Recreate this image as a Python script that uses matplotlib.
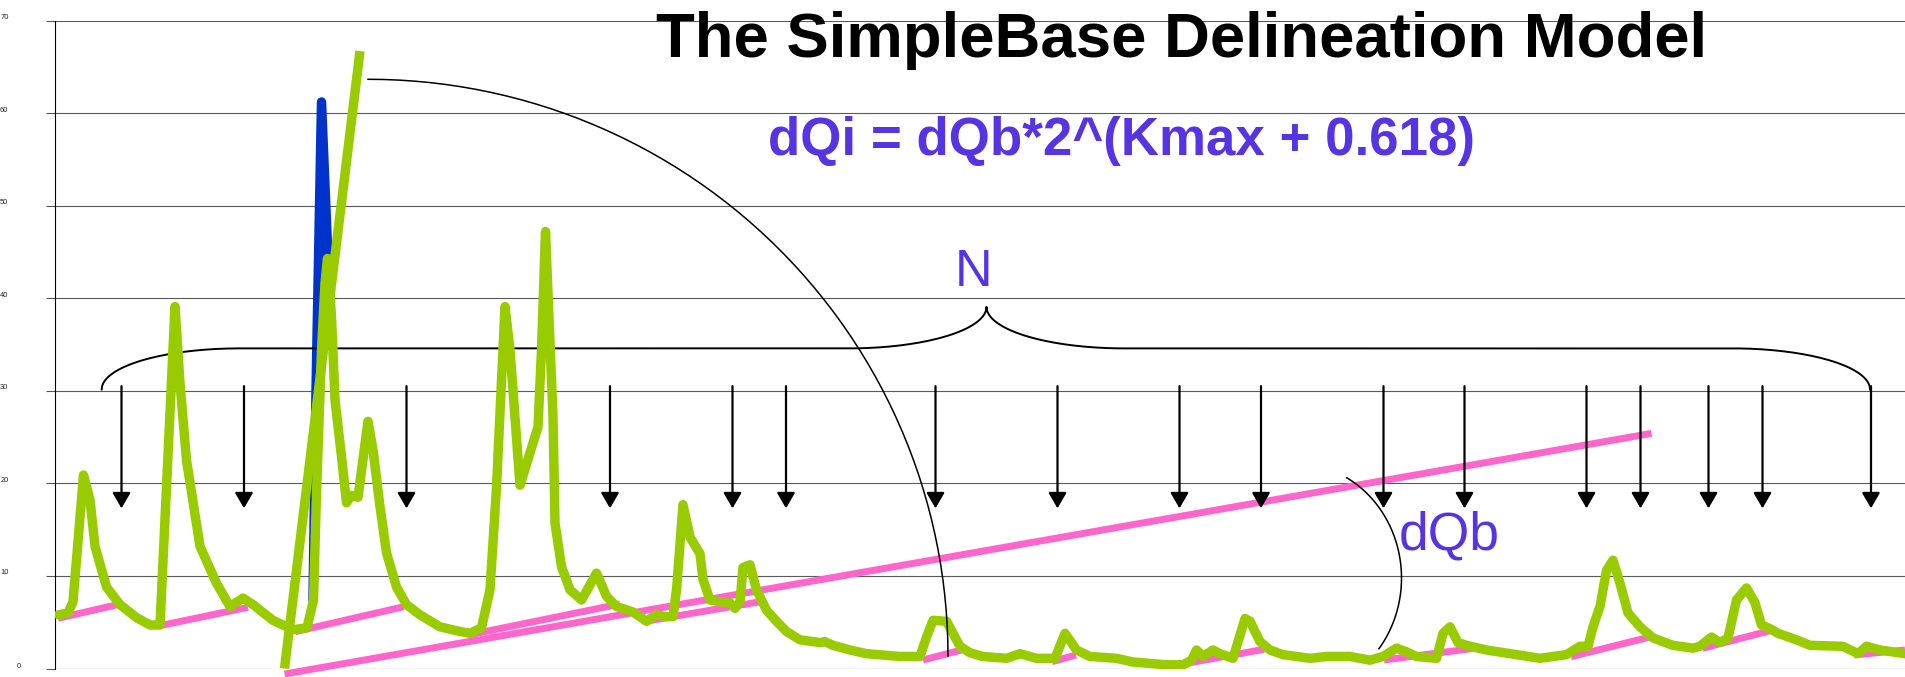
import numpy as np
import matplotlib
matplotlib.use("Agg")
import matplotlib.pyplot as plt
from matplotlib.transforms import ScaledTranslation

plt.rcParams['font.family'] = ['Liberation Sans', 'DejaVu Sans']

# hydrograph (day, flow)
flow_x = [0.7, 2.6, 3.6, 5.7, 7.0, 8.0, 10.3, 13.0, 16.3, 19.0, 21.0, 22.3, 24.0, 25.0,
          26.3, 29.0, 32.3, 35.0, 37.6, 39.6, 43.6, 47.6, 50.4, 51.7, 52.3, 53.3, 54.0,
          54.5, 55.3, 56.0, 57.3, 58.3, 59.3, 60.6, 62.6, 63.6, 65.0, 66.3, 68.3, 70.3,
          73.0, 77.0, 81.0, 83.0, 85.3, 87.0, 88.3, 90.0, 91.0, 93.0, 95.0, 96.6, 97.3,
          98.1, 99.6, 100.0, 101.3, 103.0, 105.3, 108.3, 110.3, 112.3, 115.6, 118.3,
          120.3, 122.3, 123.6, 124.3, 125.6, 127.0, 128.3, 129.0, 129.6, 131.0, 133.0,
          135.0, 136.0, 137.0, 137.6, 139.0, 140.3, 142.3, 144.3, 146.3, 149.0, 153.0,
          154.0, 155.6, 159.0, 162.3, 169.0, 173.0, 174.3, 175.6, 178.3, 179.6, 181.0,
          183.0, 185.6, 190.3, 193.0, 196.3, 200.0, 202.0, 204.3, 207.0, 212.3, 215.6,
          222.3, 225.6, 227.3, 228.3, 229.6, 231.6, 233.0, 235.6, 238.0, 239.0, 241.0,
          243.0, 245.6, 251.0, 254.3, 259.0, 263.0, 265.6, 268.3, 270.3, 272.3, 276.3,
          277.6, 279.0, 280.6, 282.3, 286.3, 291.0, 297.0, 302.3, 305.0, 306.6, 307.6,
          309.0, 310.3, 311.6, 313.0, 314.6, 317.0, 319.6, 323.6, 327.6, 329.0, 331.3,
          333.0, 334.6, 336.3, 338.3, 340.0, 341.3, 343.0, 344.6, 348.3, 351.0, 357.6,
          360.6, 362.3, 365.0, 370.0]
flow_y = [5.8, 6.0, 7.2, 20.9, 18.2, 13.2, 8.8, 6.9, 5.5, 4.7, 4.7, 19.6, 39.1, 30.8,
          22.5, 13.2, 9.2, 6.7, 7.6, 6.9, 5.2, 4.2, 4.4, 7.4, 18.9, 34.4, 41.6,
          44.3, 38.0, 29.0, 22.9, 17.9, 18.7, 18.5, 26.7, 23.6, 17.5, 12.5, 8.8, 6.9,
          5.8, 4.5, 4.0, 3.8, 4.4, 8.5, 19.6, 39.1, 34.4, 19.8, 23.3, 26.1, 34.4,
          47.2, 27.2, 15.7, 11.0, 8.5, 7.4, 10.3, 7.8, 6.7, 6.1, 5.1,
          5.8, 5.6, 5.6, 8.5, 17.7, 14.2, 13.0, 12.4, 9.6, 7.4, 7.2,
          7.1, 6.5, 7.2, 10.9, 11.2, 8.5, 6.3, 5.1, 4.0, 3.1, 2.8,
          2.9, 2.5, 2.0, 1.6, 1.3, 1.3, 3.4, 5.2, 5.1, 3.8, 2.4,
          1.7, 1.3, 1.1, 1.6, 1.1, 1.1, 3.8, 2.0, 1.3, 1.1, 0.7,
          0.4, 0.4, 0.9, 2.0, 1.3, 2.0, 1.6, 1.1, 5.4, 5.1, 2.9,
          2.0, 1.5, 1.1, 1.3, 1.3, 0.9, 1.3, 2.2, 1.8, 1.3, 1.1,
          3.8, 4.5, 2.8, 2.5, 2.0, 1.6, 1.1, 1.5, 2.4, 2.4, 4.5,
          6.7, 10.6, 11.7, 9.2, 6.0, 4.5, 3.3, 2.5, 2.2, 2.4, 3.4,
          2.8, 3.3, 7.4, 8.7, 7.1, 4.7, 4.3, 3.8, 3.1, 2.5, 2.4,
          1.6, 2.4, 2.0, 1.6]

# unsmoothed peak (blue)
peak_x = [51.6, 52.2, 53.3, 54.6]
peak_y = [7.4, 30.0, 61.2, 44.3]

# Kmax line (green)
kmax_x = [45.9, 61.0]
kmax_y = [0.0, 66.7]

# dQb baseline segments (pink): start/end of each segment
base_x0 = [0.6, 20.7, 48.0, 82.7, 119.0, 173.6, 199.4, 226.3, 265.8, 303.2, 329.5, 359.8, 45.9]
base_y0 = [5.42, 4.59, 3.97, 3.62, 5.18, 0.92, 0.73, 0.56, 0.92, 1.27, 2.18, 1.46, -0.6]
base_x1 = [12.6, 38.6, 69.7, 113.0, 141.0, 181.8, 204.2, 241.8, 284.2, 319.2, 343.0, 370.0, 319.3]
base_y1 = [6.91, 6.61, 6.67, 6.97, 7.21, 2.07, 1.46, 2.07, 2.21, 3.43, 4.08, 2.00, 25.4]

# N event markers
arrow_x = [13.3, 37.8, 70.3, 111.0, 135.5, 146.2, 176.1, 200.5, 224.9, 241.2, 265.7,
           281.9, 306.3, 317.1, 330.7, 341.5, 363.2]

yticks = [0, 10, 20, 30, 40, 50, 60, 70]
ytick_labels = ['0', '10', '20', '30', '40', '50', '60', '70']

GREEN = '#99CC00'
PINK = '#FF66CC'
BLUE = '#0033CC'
PURPLE = '#5634E4'

fig = plt.figure(figsize=(19.05, 6.77), dpi=100)
ax = fig.add_axes([55 / 1905, 8.5 / 677, 1850 / 1905, 648 / 677])
ax.set_xlim(0, 370)
ax.set_ylim(0, 70)

# baseline segments
for x0, y0, x1, y1 in zip(base_x0, base_y0, base_x1, base_y1):
    ax.plot([x0, x1], [y0, y1], color=PINK, lw=5.0, solid_capstyle='butt', zorder=2, clip_on=False)

ax.plot(peak_x, peak_y, color=BLUE, lw=6.8, solid_joinstyle='round', solid_capstyle='round', zorder=2.5)
ax.plot(flow_x, flow_y, color=GREEN, lw=6.8, solid_joinstyle='round', solid_capstyle='round', zorder=3)
ax.plot(kmax_x, kmax_y, color=GREEN, lw=6.8, solid_capstyle='butt', zorder=3, clip_on=False)

# brace over the events
bx0, bx1, bxm = 9.34, 363.0, 186.3
by0, by1, btip = 30.15, 34.58, 39.07
bw = 27.5
t = np.linspace(0, np.pi / 2, 60)
brx = np.concatenate([bx0 + bw - bw * np.cos(t), bxm - bw + bw * np.sin(t),
                      bxm + bw - bw * np.cos(t), bx1 - bw + bw * np.sin(t)])
bry = np.concatenate([by0 + (by1 - by0) * np.sin(t), btip - (btip - by1) * np.cos(t),
                      btip - (btip - by1) * np.sin(t), by0 + (by1 - by0) * np.cos(t)])
ax.plot(brx, bry, color='black', lw=1.4, zorder=2.8)

for x in arrow_x:
    ax.annotate('', xy=(x, 17.3), xytext=(x, 30.5),
                arrowprops=dict(arrowstyle='-|>,head_length=0.95,head_width=0.55',
                                color='black', lw=1.6, shrinkA=0, shrinkB=0,
                                mutation_scale=10), zorder=4)

# Kmax angle arc
ax.plot(62.6 + 116 * np.cos(t), 1.35 + 62.3 * np.sin(t), color='black', lw=1.1, zorder=4)
# dQb angle arc
ta = np.radians(np.linspace(-38, 61, 60))
ax.plot(248 + 21.3 * np.cos(ta), 9.77 + 12.4 * np.sin(ta), color='black', lw=1.1, zorder=4)

# axes styling
for s in ['top', 'right', 'bottom']:
    ax.spines[s].set_visible(False)
ax.spines['left'].set_linewidth(0.8)
ax.set_xticks([])
ax.set_yticks(yticks)
ax.set_yticklabels(ytick_labels)
ax.tick_params(axis='y', length=6.5, width=0.8, color='#555555', pad=27,
               labelsize=5.4, labelcolor='#222222')
ax.grid(axis='y', color='#5a5a5a', lw=0.8, zorder=0)
ax.set_axisbelow(True)
for lbl in ax.get_yticklabels():
    dx, dy = (12, 3) if lbl.get_text() == '0' else (0, 4)
    lbl.set_transform(lbl.get_transform() + ScaledTranslation(dx / 100, dy / 100, fig.dpi_scale_trans))

# texts
fig.text(656 / 1905, 1 - 57 / 677, 'The SimpleBase Delineation Model', fontsize=45.7,
         fontweight='bold', color='black', ha='left', va='baseline')
fig.text(768 / 1905, 1 - 155 / 677, 'dQi = dQb*2^(Kmax + 0.618)', fontsize=38.1,
         fontweight='bold', color=PURPLE, ha='left', va='baseline')
fig.text(974 / 1905, 1 - 285.5 / 677, 'N', fontsize=37.5, color=PURPLE, ha='center', va='baseline')
fig.text(1399 / 1905, 1 - 550 / 677, 'dQb', fontsize=38.5, color=PURPLE, ha='left', va='baseline')

fig.savefig('out.png', dpi=100)
